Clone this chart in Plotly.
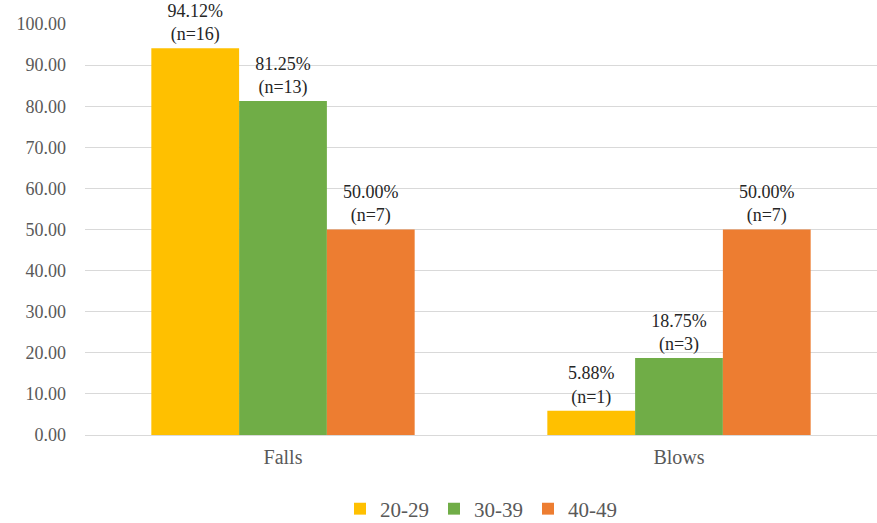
import plotly.graph_objects as go

categories = ["Falls", "Blows"]
series_names = ["20-29", "30-39", "40-49"]
values = {
    "20-29": [94.12, 5.88],
    "30-39": [81.25, 18.75],
    "40-49": [50.00, 50.00],
}
counts = {
    "20-29": [16, 1],
    "30-39": [13, 3],
    "40-49": [7, 7],
}
colors = {"20-29": "#FFC000", "30-39": "#70AD47", "40-49": "#ED7D31"}
y_ticks = [0, 10, 20, 30, 40, 50, 60, 70, 80, 90, 100]

SERIF = "Times New Roman, Liberation Serif, serif"

fig = go.Figure()
for s in series_names:
    fig.add_trace(go.Bar(
        x=categories, y=values[s], name=s,
        marker=dict(color=colors[s], line=dict(width=0)),
        text=[f"{v:.2f}%<br>(n={n})" for v, n in zip(values[s], counts[s])],
        textposition="outside",
        textfont=dict(family=SERIF, size=18, color="#262626"),
        cliponaxis=False,
    ))

fig.update_layout(
    width=877, height=523,
    margin=dict(l=85, r=0, t=24, b=88, autoexpand=False),
    barmode="group", bargap=0.335, bargroupgap=0,
    plot_bgcolor="white", paper_bgcolor="white",
    font=dict(family=SERIF, size=20, color="#595959"),
    showlegend=True,
    legend=dict(orientation="h", x=0.5, xanchor="center", y=-0.18, yanchor="middle",
                font=dict(family=SERIF, size=21, color="#595959"),
                traceorder="normal"),
    uniformtext=dict(mode=False),
)
fig.update_yaxes(range=[0, 100], tickvals=y_ticks, tickformat=".2f",
                 showgrid=True, gridcolor="#D9D9D9", gridwidth=1,
                 zeroline=True, zerolinecolor="#D9D9D9", zerolinewidth=1,
                 ticklabelstandoff=18, showline=False,
                 tickfont=dict(family=SERIF, size=18, color="#595959"))
fig.update_xaxes(showline=False, ticks="", ticklabelstandoff=8,
                 tickfont=dict(family=SERIF, size=20, color="#595959"))

fig.write_html("out.html")
